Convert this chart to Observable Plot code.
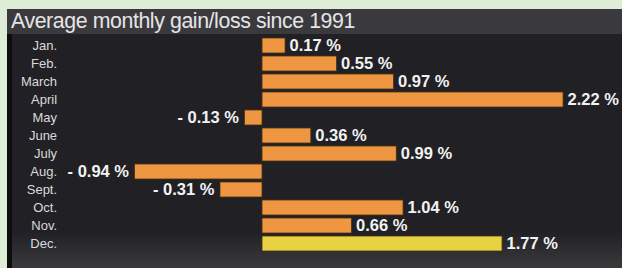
<!DOCTYPE html>
<html><head><meta charset="utf-8">
<script src="https://cdn.jsdelivr.net/npm/d3@7"></script>
<script src="https://cdn.jsdelivr.net/npm/@observablehq/plot@0.6"></script>
<style>
html,body{margin:0;padding:0;}
body{width:622px;height:268px;background:#deedd6;position:relative;overflow:hidden;font-family:"Liberation Sans",Arial,sans-serif;}
#panel{position:absolute;left:7px;top:9px;width:615px;height:259px;background:linear-gradient(#212125 0%,#212125 86%,#3a3a3d 100%);}
#strip{position:absolute;left:0;top:25px;width:5px;height:234px;background:#0d0d0f;}
#title{height:25px;line-height:25px;background:#3a3a3e;color:#e6e6e6;font-size:21.3px;padding-left:4px;letter-spacing:-0.4px;}
svg{display:block;}
</style></head><body>
<div id="panel"><div id="title">Average monthly gain/loss since 1991</div><div id="strip"></div><div id="chart"></div></div>
<script>
const months = ["Jan.","Feb.","March","April","May","June","July","Aug.","Sept.","Oct.","Nov.","Dec."];
const values = [0.17,0.55,0.97,2.22,-0.13,0.36,0.99,-0.94,-0.31,1.04,0.66,1.77];
const data = months.map((m,i)=>({month:m,value:values[i],dec:m==="Dec."}));
const fmt = v => v < 0 ? "- " + Math.abs(v).toFixed(2) + " %" : v.toFixed(2) + " %";
const labelStyle = {fill:"#f2f2f2",fontWeight:"bold",fontSize:16.5,style:"letter-spacing:-0.4px"};
const chart = Plot.plot({
  width:615, height:234,
  marginLeft:51.6, marginRight:7.4, marginTop:1.65, marginBottom:13.65,
  style:{background:"transparent",color:"#dcdcdc",fontFamily:"Liberation Sans, Arial, sans-serif"},
  x:{domain:[-1.5,2.6],axis:null},
  y:{domain:months,padding:0.15,label:null,axis:null},
  marks:[
    Plot.axisY({tickSize:0,tickPadding:2,fontSize:13,fill:"#dadada",style:"letter-spacing:-0.3px"}),
    Plot.barX(data,{x:"value",y:"month",fill:d=>d.dec?"#e6d243":"#ef9642",stroke:"#4a3010",strokeWidth:0.8}),
    Plot.ruleX([0],{y1:4,y2:219,stroke:"#8a8a8a",strokeWidth:1.5}),
    Plot.text(data.filter(d=>d.value>=0),{x:"value",y:"month",text:d=>fmt(d.value),textAnchor:"start",dx:4,...labelStyle}),
    Plot.text(data.filter(d=>d.value<0),{x:"value",y:"month",text:d=>fmt(d.value),textAnchor:"end",dx:-6,...labelStyle})
  ]
});
document.getElementById("chart").append(chart);
</script>
</body></html>
